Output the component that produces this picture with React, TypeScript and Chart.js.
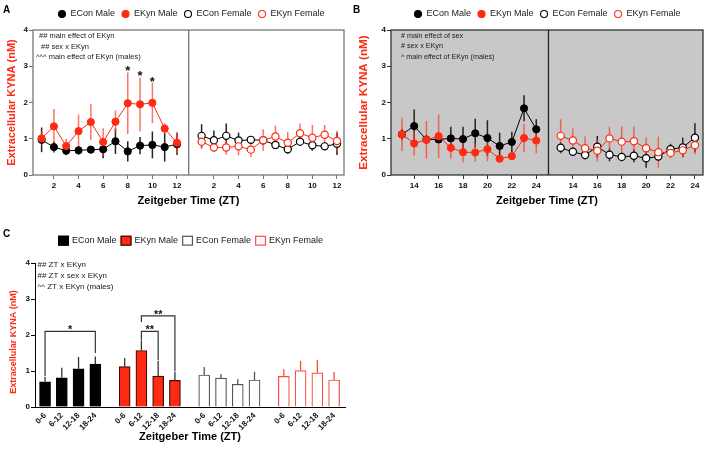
import React, { useEffect, useRef } from 'react';
import { Chart, registerables } from 'chart.js';
Chart.register(...registerables);

const FONT = "'Liberation Sans', Arial, Helvetica, sans-serif";
const RED = '#ff2a12';
const RED_ERR = 'rgba(255,55,35,0.7)';
const BLACK = '#000000';

// ---------- categories / ticks ----------
const ztLight = [1, 2, 3, 4, 5, 6, 7, 8, 9, 10, 11, 12];
const ztDark = [13, 14, 15, 16, 17, 18, 19, 20, 21, 22, 23, 24];
const tickLight = [2, 4, 6, 8, 10, 12];
const tickDark = [14, 16, 18, 20, 22, 24];
const seriesNames = ['ECon Male', 'EKyn Male', 'ECon Female', 'EKyn Female'];
const binLabels = ['0-6', '6-12', '12-18', '18-24'];

const notesA = ['## main effect of EKyn', '## sex x EKyn', '^^^ main effect of EKyn (males)'];
const notesB = ['# main effect of sex', '# sex x EKyn', '^ main effect of EKyn (males)'];
const notesC = ['## ZT x EKyn', '## ZT x sex x EKyn', '^^ ZT x EKyn (males)'];
const starsA = [8, 9, 10];

// ---------- Panel A (ZT 1-12) ----------
const aEConMale = [0.97, 0.77, 0.67, 0.68, 0.70, 0.71, 0.93, 0.65, 0.81, 0.83, 0.77, 0.85];
const aEConMaleErr = [0.34, 0.15, 0.12, 0.12, 0.10, 0.25, 0.35, 0.28, 0.24, 0.37, 0.40, 0.30];
const aEKynMale = [1.01, 1.34, 0.80, 1.21, 1.46, 0.91, 1.47, 1.98, 1.95, 1.99, 1.28, 0.89];
const aEKynMaleErr = [0.20, 0.48, 0.20, 0.46, 0.50, 0.38, 0.31, 0.85, 0.74, 0.56, 0.15, 0.30];
const aEConFemale = [1.08, 0.96, 1.08, 0.95, 0.97, 0.96, 0.83, 0.71, 0.92, 0.82, 0.79, 0.86];
const aEConFemaleErr = [0.32, 0.27, 0.34, 0.22, 0.06, 0.06, 0.10, 0.12, 0.12, 0.15, 0.10, 0.31];
const aEKynFemale = [0.92, 0.76, 0.76, 0.79, 0.70, 0.96, 1.06, 0.89, 1.15, 1.03, 1.11, 0.94];
const aEKynFemaleErr = [0.20, 0.12, 0.20, 0.25, 0.20, 0.30, 0.30, 0.30, 0.27, 0.35, 0.27, 0.28];

// ---------- Panel B (ZT 13-24) ----------
const bEConMale = [1.12, 1.35, 0.98, 0.98, 1.01, 0.99, 1.15, 1.02, 0.80, 0.91, 1.84, 1.26];
const bEConMaleErr = [0.15, 0.46, 0.10, 0.10, 0.32, 0.34, 0.40, 0.49, 0.37, 0.28, 0.36, 0.28];
const bEKynMale = [1.12, 0.87, 0.97, 1.07, 0.75, 0.63, 0.62, 0.71, 0.45, 0.52, 1.02, 0.95];
const bEKynMaleErr = [0.46, 0.33, 0.52, 0.60, 0.30, 0.28, 0.25, 0.33, 0.05, 0.10, 0.39, 0.35];
const bEConFemale = [0.75, 0.64, 0.55, 0.78, 0.56, 0.50, 0.53, 0.46, 0.51, 0.71, 0.76, 1.03];
const bEConFemaleErr = [0.15, 0.10, 0.10, 0.30, 0.18, 0.12, 0.18, 0.26, 0.10, 0.15, 0.27, 0.40];
const bEKynFemale = [1.08, 0.95, 0.74, 0.67, 1.01, 0.92, 0.93, 0.74, 0.63, 0.61, 0.68, 0.82];
const bEKynFemaleErr = [0.46, 0.33, 0.32, 0.30, 0.32, 0.42, 0.40, 0.30, 0.43, 0.15, 0.20, 0.25];

// ---------- Panel C (binned) ----------
const cEConMale = [0.70, 0.81, 1.06, 1.19];
const cEConMaleErr = [0.14, 0.28, 0.33, 0.21];
const cEKynMale = [1.12, 1.57, 0.86, 0.74];
const cEKynMaleErr = [0.24, 0.28, 0.42, 0.24];
const cEConFemale = [0.89, 0.80, 0.63, 0.75];
const cEConFemaleErr = [0.22, 0.12, 0.15, 0.23];
const cEKynFemale = [0.85, 1.01, 0.95, 0.75];
const cEKynFemaleErr = [0.20, 0.27, 0.35, 0.22];
const bracketsC = [
  { group: 0, from: 0, to: 3, top: 2.1, legFrom: 0.86, legTo: 1.5, label: '*' },
  { group: 1, from: 1, to: 2, top: 2.1, legFrom: 1.86, legTo: 1.3, label: '**' },
  { group: 1, from: 1, to: 3, top: 2.53, legFrom: 2.36, legTo: 1.0, label: '**' },
];

const FEMALE_SHIFT = 13;
const GROUP_STEP = 4.75;

function drawLegend(ctx: CanvasRenderingContext2D, kind: string, x0: number, y: number, items: any[]) {
  ctx.save();
  ctx.font = `9px ${FONT}`;
  ctx.textBaseline = 'middle';
  ctx.textAlign = 'left';
  let x = x0;
  items.forEach((it) => {
    if (kind === 'circle') {
      ctx.beginPath();
      ctx.arc(x, y, 3.5, 0, Math.PI * 2);
      ctx.fillStyle = it.fill;
      ctx.fill();
      ctx.lineWidth = 1.1;
      ctx.strokeStyle = it.stroke;
      ctx.stroke();
      const tx = x + 8.5;
      ctx.fillStyle = '#1a1a1a';
      ctx.fillText(it.label, tx, y);
      x = tx + ctx.measureText(it.label).width + 10.5;
    } else {
      ctx.fillStyle = it.fill;
      ctx.fillRect(x, y - 5, 11, 10);
      ctx.lineWidth = 1.2;
      ctx.strokeStyle = it.stroke;
      ctx.strokeRect(x + 0.6, y - 4.4, 9.8, 8.8);
      const tx = x + 14;
      ctx.fillStyle = '#1a1a1a';
      ctx.fillText(it.label, tx, y);
      x = tx + ctx.measureText(it.label).width + 4;
    }
  });
  ctx.restore();
}

function drawNotes(ctx: CanvasRenderingContext2D, notes: string[], xs: number[], ys: number[], size: number) {
  ctx.save();
  ctx.font = `${size}px ${FONT}`;
  ctx.fillStyle = '#1a1a1a';
  ctx.textBaseline = 'middle';
  ctx.textAlign = 'left';
  notes.forEach((n, i) => ctx.fillText(n, xs[i], ys[i]));
  ctx.restore();
}

function drawLetter(ctx: CanvasRenderingContext2D, letter: string, x: number, y: number) {
  ctx.save();
  ctx.font = `bold 10px ${FONT}`;
  ctx.fillStyle = '#000';
  ctx.textBaseline = 'alphabetic';
  ctx.textAlign = 'left';
  ctx.fillText(letter, x, y);
  ctx.restore();
}

function lineDs(label: string, xs: number[], ys: number[], errs: number[], color: string, filled: boolean, order: number, shift: number) {
  return {
    label,
    order,
    data: xs.map((x, i) => ({ x: x + shift, y: ys[i] })),
    err: errs,
    errColor: color === RED ? RED_ERR : '#222',
    borderColor: color,
    backgroundColor: color,
    borderWidth: 1,
    pointRadius: 3.6,
    pointHoverRadius: 3.6,
    pointBackgroundColor: filled ? color : '#ffffff',
    pointBorderColor: color,
    pointBorderWidth: filled ? 1 : 1.2,
    fill: false,
    tension: 0,
  };
}

function makeLinePanel(canvas: HTMLCanvasElement, cfg: any) {
  const tickVals = cfg.ticks.concat(cfg.ticks.map((t: number) => t + FEMALE_SHIFT));
  const plugin = {
    id: 'panel' + cfg.letter,
    beforeDraw(chart: any) {
      if (!cfg.bg) return;
      const { ctx, chartArea: a } = chart;
      ctx.save();
      ctx.fillStyle = cfg.bg;
      ctx.fillRect(a.left, a.top, a.right - a.left, a.bottom - a.top);
      ctx.restore();
    },
    beforeDatasetsDraw(chart: any) {
      const { ctx } = chart;
      const ys = chart.scales.y;
      chart.data.datasets.forEach((ds: any, di: number) => {
        const meta = chart.getDatasetMeta(di);
        ctx.save();
        ctx.strokeStyle = ds.errColor;
        ctx.lineWidth = 1.5;
        meta.data.forEach((el: any, i: number) => {
          const v = ds.data[i].y;
          const e = ds.err[i];
          ctx.beginPath();
          ctx.moveTo(el.x, ys.getPixelForValue(v + e));
          ctx.lineTo(el.x, ys.getPixelForValue(Math.max(0, v - e)));
          ctx.stroke();
        });
        ctx.restore();
      });
    },
    afterDraw(chart: any) {
      const { ctx, chartArea: a } = chart;
      const xs = chart.scales.x;
      const ys = chart.scales.y;
      ctx.save();
      ctx.strokeStyle = cfg.boxColor;
      ctx.lineWidth = 1.3;
      ctx.strokeRect(a.left, a.top, a.right - a.left, a.bottom - a.top);
      const dx = xs.getPixelForValue(cfg.divider);
      ctx.strokeStyle = cfg.dividerColor;
      ctx.lineWidth = 1.3;
      ctx.beginPath();
      ctx.moveTo(dx, a.top);
      ctx.lineTo(dx, a.bottom);
      ctx.stroke();
      ctx.restore();

      // significance stars
      ctx.save();
      ctx.font = `bold 13px ${FONT}`;
      ctx.fillStyle = '#111';
      ctx.textAlign = 'center';
      ctx.textBaseline = 'alphabetic';
      cfg.stars.forEach((zt: number) => {
        const i = cfg.xs.indexOf(zt);
        const top = ys.getPixelForValue(cfg.series[1][i] + cfg.errs[1][i]);
        ctx.fillText('*', xs.getPixelForValue(zt), top + 3);
      });
      ctx.restore();

      drawLegend(ctx, 'circle', cfg.legendX, 14, [
        { label: seriesNames[0], fill: BLACK, stroke: BLACK },
        { label: seriesNames[1], fill: RED, stroke: RED },
        { label: seriesNames[2], fill: '#fff', stroke: BLACK },
        { label: seriesNames[3], fill: '#fff', stroke: RED },
      ]);
      drawNotes(ctx, cfg.notes, cfg.noteXs, [36, 46.5, 57], cfg.noteSize);
      drawLetter(ctx, cfg.letter, 3, 13);
    },
  };

  return new Chart(canvas, {
    type: 'line',
    data: {
      datasets: [
        lineDs(seriesNames[0], cfg.xs, cfg.series[0], cfg.errs[0], BLACK, true, 1, 0),
        lineDs(seriesNames[1], cfg.xs, cfg.series[1], cfg.errs[1], RED, true, 0, 0),
        lineDs(seriesNames[2], cfg.xs, cfg.series[2], cfg.errs[2], BLACK, false, 3, FEMALE_SHIFT),
        lineDs(seriesNames[3], cfg.xs, cfg.series[3], cfg.errs[3], RED, false, 2, FEMALE_SHIFT),
      ] as any,
    },
    options: {
      responsive: false,
      animation: false,
      devicePixelRatio: 1,
      layout: { padding: { left: 0, top: 30, right: cfg.padRight, bottom: 0 } },
      plugins: { legend: { display: false }, tooltip: { enabled: false } },
      scales: {
        x: {
          type: 'linear',
          min: cfg.xMin,
          max: cfg.xMax,
          afterBuildTicks: (s: any) => { s.ticks = tickVals.map((v: number) => ({ value: v })); },
          afterFit: (s: any) => { s.height = 37; },
          grid: { drawOnChartArea: false, drawTicks: true, tickLength: 4, color: cfg.boxColor, lineWidth: 1 },
          border: { display: false },
          ticks: {
            autoSkip: false,
            maxRotation: 0,
            padding: 2,
            color: '#111',
            font: { family: FONT, size: 8, weight: 'bold' },
            callback: (v: any) => String(v > cfg.divider ? v - FEMALE_SHIFT : v),
          },
          title: {
            display: true,
            text: 'Zeitgeber Time (ZT)',
            color: '#000',
            font: { family: FONT, size: 11, weight: 'bold' },
            padding: { top: 0, bottom: 4.4 },
          },
        },
        y: {
          min: 0,
          max: 4,
          afterFit: (s: any) => { s.width = cfg.yWidth; },
          grid: { drawOnChartArea: false, drawTicks: true, tickLength: 4, color: cfg.boxColor, lineWidth: 1 },
          border: { display: false },
          ticks: { stepSize: 1, padding: 1, color: '#111', font: { family: FONT, size: 8, weight: 'bold' } },
          title: {
            display: true,
            text: 'Extracellular KYNA (nM)',
            color: RED,
            font: { family: FONT, size: cfg.yTitleSize, weight: 'bold' },
            padding: { top: cfg.yTitlePad, bottom: 0 },
          },
        },
      },
    } as any,
    plugins: [plugin],
  });
}

function makeBarPanel(canvas: HTMLCanvasElement) {
  const groups = [
    { label: seriesNames[0], vals: cEConMale, err: cEConMaleErr, fill: '#000', stroke: '#000', errColor: '#333' },
    { label: seriesNames[1], vals: cEKynMale, err: cEKynMaleErr, fill: RED, stroke: '#3a0a05', errColor: '#333' },
    { label: seriesNames[2], vals: cEConFemale, err: cEConFemaleErr, fill: '#fff', stroke: '#555', errColor: '#555' },
    { label: seriesNames[3], vals: cEKynFemale, err: cEKynFemaleErr, fill: '#fff', stroke: '#ff4a3a', errColor: '#ff4a3a' },
  ];
  const positions: number[] = [];
  groups.forEach((g, gi) => binLabels.forEach((_, i) => positions.push(gi * GROUP_STEP + i)));

  const plugin = {
    id: 'panelC',
    afterDatasetsDraw(chart: any) {
      const { ctx } = chart;
      const ys = chart.scales.y;
      chart.data.datasets.forEach((ds: any, di: number) => {
        const meta = chart.getDatasetMeta(di);
        ctx.save();
        ctx.strokeStyle = ds.errColor;
        ctx.lineWidth = 1.3;
        meta.data.forEach((el: any, i: number) => {
          const v = ds.data[i].y;
          ctx.beginPath();
          ctx.moveTo(el.x, ys.getPixelForValue(v));
          ctx.lineTo(el.x, ys.getPixelForValue(v + ds.err[i]));
          ctx.stroke();
        });
        ctx.restore();
      });
    },
    afterDraw(chart: any) {
      const { ctx } = chart;
      const xs = chart.scales.x;
      const ys = chart.scales.y;
      ctx.save();
      ctx.strokeStyle = '#333';
      ctx.lineWidth = 1.2;
      ctx.fillStyle = '#111';
      ctx.font = `bold 11px ${FONT}`;
      ctx.textAlign = 'center';
      ctx.textBaseline = 'alphabetic';
      bracketsC.forEach((b) => {
        const x1 = xs.getPixelForValue(b.group * GROUP_STEP + b.from);
        const x2 = xs.getPixelForValue(b.group * GROUP_STEP + b.to);
        const yt = ys.getPixelForValue(b.top);
        ctx.beginPath();
        ctx.moveTo(x1, ys.getPixelForValue(b.legFrom));
        ctx.lineTo(x1, yt);
        ctx.lineTo(x2, yt);
        ctx.lineTo(x2, ys.getPixelForValue(b.legTo));
        ctx.stroke();
        ctx.fillText(b.label, (x1 + x2) / 2, yt + 2);
      });
      ctx.restore();

      // y title
      ctx.save();
      ctx.translate(13.3, 120);
      ctx.rotate(-Math.PI / 2);
      ctx.font = `bold 9px ${FONT}`;
      ctx.fillStyle = RED;
      ctx.textAlign = 'center';
      ctx.textBaseline = 'middle';
      ctx.fillText('Extracellular KYNA (nM)', 0, 0);
      ctx.restore();

      drawLegend(ctx, 'box', 58, 18.7, groups.map((g) => ({ label: g.label, fill: g.fill, stroke: g.stroke })));
      drawNotes(ctx, notesC, [37.5, 37.5, 37.5], [43, 54, 65], 8);
      drawLetter(ctx, 'C', 3, 15);
    },
  };

  return new Chart(canvas, {
    type: 'bar',
    data: {
      datasets: groups.map((g, gi) => ({
        label: g.label,
        data: g.vals.map((v, i) => ({ x: gi * GROUP_STEP + i, y: v })),
        err: g.err,
        errColor: g.errColor,
        backgroundColor: g.fill,
        borderColor: g.stroke,
        borderWidth: 1.2,
        barThickness: 11,
        grouped: false,
      })) as any,
    },
    options: {
      responsive: false,
      animation: false,
      devicePixelRatio: 1,
      layout: { padding: { left: 0, top: 41, right: 9, bottom: 0 } },
      plugins: { legend: { display: false }, tooltip: { enabled: false } },
      scales: {
        x: {
          type: 'linear',
          min: -0.6,
          max: 17.9,
          offset: false,
          afterBuildTicks: (s: any) => { s.ticks = positions.map((v) => ({ value: v })); },
          afterFit: (s: any) => { s.height = 42; },
          grid: { drawOnChartArea: false, drawTicks: true, tickLength: 2, color: 'rgba(0,0,0,0)' },
          border: { display: true, color: '#000', width: 1 },
          ticks: {
            autoSkip: false,
            minRotation: 45,
            maxRotation: 45,
            padding: 2,
            color: '#111',
            font: { family: FONT, size: 8, weight: 'bold' },
            callback: (_v: any, i: number) => binLabels[i % binLabels.length],
          },
          title: {
            display: true,
            text: 'Zeitgeber Time (ZT)',
            color: '#000',
            font: { family: FONT, size: 11, weight: 'bold' },
            padding: { top: 0, bottom: 5.4 },
          },
        },
        y: {
          min: 0,
          max: 4,
          afterFit: (s: any) => { s.width = 35; },
          grid: { drawOnChartArea: false, drawTicks: true, tickLength: 4, color: '#000', lineWidth: 1 },
          border: { display: true, color: '#000', width: 1 },
          ticks: { stepSize: 1, padding: 1, color: '#111', font: { family: FONT, size: 8, weight: 'bold' } },
        },
      },
    } as any,
    plugins: [plugin],
  });
}

export default function App() {
  const refA = useRef<HTMLCanvasElement>(null);
  const refB = useRef<HTMLCanvasElement>(null);
  const refC = useRef<HTMLCanvasElement>(null);

  useEffect(() => {
    const charts: Chart[] = [];
    charts.push(
      makeLinePanel(refA.current!, {
        letter: 'A',
        xs: ztLight,
        ticks: tickLight,
        xMin: 0.3,
        xMax: 25.57,
        divider: 12.95,
        series: [aEConMale, aEKynMale, aEConFemale, aEKynFemale],
        errs: [aEConMaleErr, aEKynMaleErr, aEConFemaleErr, aEKynFemaleErr],
        bg: null,
        boxColor: '#777',
        dividerColor: '#777',
        yWidth: 33,
        padRight: 10,
        yTitleSize: 11,
        yTitlePad: 5,
        legendX: 62,
        notes: notesA,
        noteXs: [39, 41, 36],
        noteSize: 7.5,
        stars: starsA,
      })
    );
    charts.push(
      makeLinePanel(refB.current!, {
        letter: 'B',
        xs: ztDark,
        ticks: tickDark,
        xMin: 12.1,
        xMax: 37.66,
        divider: 25.0,
        series: [bEConMale, bEKynMale, bEConFemale, bEKynFemale],
        errs: [bEConMaleErr, bEKynMaleErr, bEConFemaleErr, bEKynFemaleErr],
        bg: '#c8c8c8',
        boxColor: '#333',
        dividerColor: '#222',
        yWidth: 41,
        padRight: 5,
        yTitleSize: 11.7,
        yTitlePad: 6.3,
        legendX: 68,
        notes: notesB,
        noteXs: [51, 51, 51],
        noteSize: 7.2,
        stars: [],
      })
    );
    charts.push(makeBarPanel(refC.current!));
    return () => charts.forEach((c) => c.destroy());
  }, []);

  return (
    <div style={{ position: 'absolute', left: 0, top: 0, width: 708, height: 449, background: '#fff', overflow: 'hidden' }}>
      <canvas ref={refA} width={354} height={212} style={{ position: 'absolute', left: 0, top: 0, width: 354, height: 212 }} />
      <canvas ref={refB} width={358} height={212} style={{ position: 'absolute', left: 350, top: 0, width: 358, height: 212 }} />
      <canvas ref={refC} width={354} height={227} style={{ position: 'absolute', left: 0, top: 222, width: 354, height: 227 }} />
    </div>
  );
}
